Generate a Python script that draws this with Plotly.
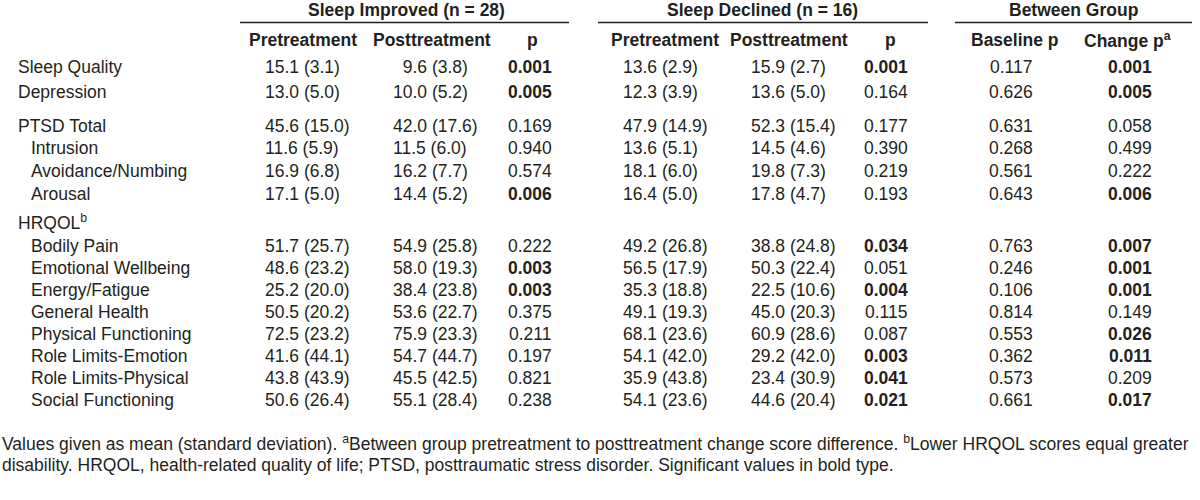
import plotly.graph_objects as go

# ---------------- data ----------------
row_labels = ["Sleep Quality", "Depression", "PTSD Total", "Intrusion", "Avoidance/Numbing",
              "Arousal", "HRQOL<sup>b</sup>", "Bodily Pain", "Emotional Wellbeing", "Energy/Fatigue",
              "General Health", "Physical Functioning", "Role Limits-Emotion",
              "Role Limits-Physical", "Social Functioning"]
row_indent = [0, 0, 0, 1, 1, 1, 0, 1, 1, 1, 1, 1, 1, 1, 1]
row_y = [67, 92, 126, 148, 171, 194, 222, 246, 268, 290, 312, 334, 356, 378, 400]

si_pre_mean = [15.1, 13.0, 45.6, 11.6, 16.9, 17.1, None, 51.7, 48.6, 25.2, 50.5, 72.5, 41.6, 43.8, 50.6]
si_pre_sd = [3.1, 5.0, 15.0, 5.9, 6.8, 5.0, None, 25.7, 23.2, 20.0, 20.2, 23.2, 44.1, 43.9, 26.4]
si_post_mean = [9.6, 10.0, 42.0, 11.5, 16.2, 14.4, None, 54.9, 58.0, 38.4, 53.6, 75.9, 54.7, 45.5, 55.1]
si_post_sd = [3.8, 5.2, 17.6, 6.0, 7.7, 5.2, None, 25.8, 19.3, 23.8, 22.7, 23.3, 44.7, 42.5, 28.4]
si_p = [0.001, 0.005, 0.169, 0.940, 0.574, 0.006, None, 0.222, 0.003, 0.003, 0.375, 0.211, 0.197, 0.821, 0.238]

sd_pre_mean = [13.6, 12.3, 47.9, 13.6, 18.1, 16.4, None, 49.2, 56.5, 35.3, 49.1, 68.1, 54.1, 35.9, 54.1]
sd_pre_sd = [2.9, 3.9, 14.9, 5.1, 6.0, 5.0, None, 26.8, 17.9, 18.8, 19.3, 23.6, 42.0, 43.8, 23.6]
sd_post_mean = [15.9, 13.6, 52.3, 14.5, 19.8, 17.8, None, 38.8, 50.3, 22.5, 45.0, 60.9, 29.2, 23.4, 44.6]
sd_post_sd = [2.7, 5.0, 15.4, 4.6, 7.3, 4.7, None, 24.8, 22.4, 10.6, 20.3, 28.6, 42.0, 30.9, 20.4]
sd_p = [0.001, 0.164, 0.177, 0.390, 0.219, 0.193, None, 0.034, 0.051, 0.004, 0.115, 0.087, 0.003, 0.041, 0.021]

baseline_p = [0.117, 0.626, 0.631, 0.268, 0.561, 0.643, None, 0.763, 0.246, 0.106, 0.814, 0.553, 0.362, 0.573, 0.661]
change_p = [0.001, 0.005, 0.058, 0.499, 0.222, 0.006, None, 0.007, 0.001, 0.001, 0.149, 0.026, 0.011, 0.209, 0.017]

group_titles = ["Sleep Improved (n = 28)", "Sleep Declined (n = 16)", "Between Group"]
column_titles = ["Pretreatment", "Posttreatment", "p", "Pretreatment", "Posttreatment", "p",
                 "Baseline p", "Change p<sup>a</sup>"]
footnote_lines = [
    "Values given as mean (standard deviation). <sup>a</sup>Between group pretreatment to posttreatment "
    "change score difference. <sup>b</sup>Lower HRQOL scores equal greater",
    "disability. HRQOL, health-related quality of life; PTSD, posttraumatic stress disorder. "
    "Significant values in bold type.",
]

# ---------------- layout / style ----------------
FONT = "Liberation Sans, Arial, sans-serif"
FS = 17.5
COLOR = "#231f20"

group_x = [406, 762, 1073]
group_lines = [(240, 569), (598, 928), (955, 1192)]
col_x = [303, 432, 532, 665, 789, 890, 1015, 1127]
ms_left = [263, 391, 621, 749]      # left edge (two-digit mean) for mean (sd) columns
p_right = [554, 910, 1035, 1154]    # right edge for p columns
SIG = 0.05

fig = go.Figure()
fig.add_trace(go.Scatter(x=[0, 1200], y=[0, 500], mode="markers",
                         marker=dict(opacity=0), hoverinfo="skip", showlegend=False))

ann = []


def add_text(x, y, text, xanchor="center", bold=False, size=FS):
    t = f"<b>{text}</b>" if bold else text
    ann.append(dict(x=x, y=y, xref="x", yref="y", text=t, showarrow=False,
                    xanchor=xanchor, yanchor="middle", align="left",
                    font=dict(family=FONT, size=size, color=COLOR)))


# group headers
for gx, gt in zip(group_x, group_titles):
    add_text(gx, 10, gt, bold=True)
for (x0, x1) in group_lines:
    fig.add_shape(type="line", x0=x0, x1=x1, y0=22.5, y1=22.5, xref="x", yref="y",
                  line=dict(color=COLOR, width=1.5))
# column headers
for cx, ct in zip(col_x, column_titles):
    add_text(cx, 40, ct, bold=True)


def fmt_ms(m, s):
    pad = "\u2007" if m < 10 else ""
    return f"{pad}{m:.1f} ({s:.1f})"


ms_cols = [(si_pre_mean, si_pre_sd), (si_post_mean, si_post_sd),
           (sd_pre_mean, sd_pre_sd), (sd_post_mean, sd_post_sd)]
p_cols = [si_p, sd_p, baseline_p, change_p]

for i, lab in enumerate(row_labels):
    y = row_y[i]
    add_text(16 + 13 * row_indent[i], y, lab, xanchor="left")
    for (means, sds), lx in zip(ms_cols, ms_left):
        if means[i] is not None:
            add_text(lx, y, fmt_ms(means[i], sds[i]), xanchor="left")
    for pv, rx in zip(p_cols, p_right):
        if pv[i] is not None:
            add_text(rx, y, f"{pv[i]:.3f}", xanchor="right", bold=pv[i] < SIG)

for k, line in enumerate(footnote_lines):
    add_text(0, 443 + 22 * k, line, xanchor="left")

fig.update_layout(
    width=1200, height=500,
    margin=dict(l=0, r=0, t=0, b=0),
    paper_bgcolor="white", plot_bgcolor="white",
    xaxis=dict(range=[0, 1200], visible=False, fixedrange=True),
    yaxis=dict(range=[500, 0], visible=False, fixedrange=True),
    annotations=ann,
    showlegend=False,
)

fig.write_html("out.html", config={"displayModeBar": False},
               post_script="document.body.style.margin='0';document.body.style.overflow='hidden';")
